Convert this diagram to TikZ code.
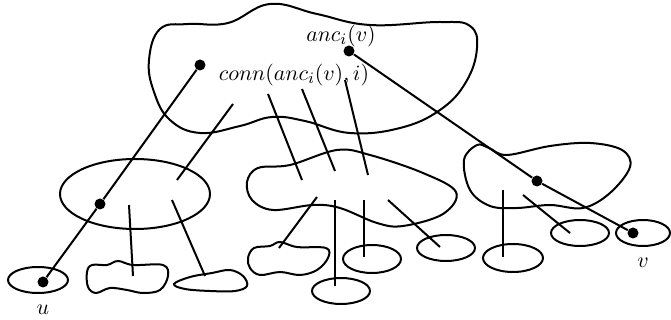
\documentclass[tikz,border=0pt]{standalone}
\usepackage{amsmath}

\tikzset{
  blob/.style={line width=1pt},
  edge/.style={line width=1pt},
  dot/.style={circle,fill,inner sep=0pt,minimum size=5.5pt},
  lbl/.style={font=\fontsize{11}{13}\selectfont,inner sep=1pt}
}

\begin{document}
\begin{tikzpicture}[x=0.5pt,y=-0.5pt]
\useasboundingbox (0,0) rectangle (671,320);
\draw[blob] plot[smooth cycle,tension=0.7] coordinates {(149,60) (160,29) (188,24) (228,23) (270,4) (317,14) (370,25) (440,22) (470,26) (477,48) (466,82) (440,110) (400,128) (350,133) (305,121) (272,117) (240,126) (200,133) (170,120) (154,92)};
\draw[blob] (135,194) ellipse [x radius=75,y radius=35];
\draw[blob] plot[smooth cycle,tension=0.6] coordinates {(247,182) (258,168) (290,165) (337,150) (370,155) (423,173) (456,192) (443,214) (403,226) (377,223) (340,208) (313,205) (273,210) (252,200)};
\draw[blob] plot[smooth cycle,tension=0.6] coordinates {(464,160) (477,145) (489,148) (507,155) (550,146) (590,143) (622,150) (630,167) (610,193) (583,208) (550,205) (517,208) (490,206) (470,190)};
\draw[blob] (38,280) ellipse [x radius=30,y radius=13];
\draw[blob] plot[smooth cycle,tension=0.6] coordinates {(87,272) (92,265) (107,265) (118,261) (133,265) (163,265) (168,276) (160,290) (143,293) (127,290) (110,288) (96,293) (88,287)};
\draw[blob] plot[smooth cycle,tension=0.6] coordinates {(174,284) (190,277) (212,273) (230,270) (243,276) (247,286) (235,291) (210,291) (185,289)};
\draw[blob] plot[smooth cycle,tension=0.6] coordinates {(248,258) (254,248) (270,246) (280,242) (297,247) (326,248) (328,258) (317,270) (300,275) (280,272) (260,275) (250,268)};
\draw[blob] (341,291) ellipse [x radius=29,y radius=13];
\draw[blob] (372,259) ellipse [x radius=29,y radius=14];
\draw[blob] (446,248) ellipse [x radius=29,y radius=13];
\draw[blob] (513,258) ellipse [x radius=30,y radius=14];
\draw[blob] (580,233) ellipse [x radius=29,y radius=13];
\draw[blob] (643,233) ellipse [x radius=27,y radius=13];
\node[dot] (rootu) at (200,65) {};
\node[dot] (rootv) at (349,51) {};
\node[dot] (midu) at (100,204) {};
\node[dot] (midv) at (537,181) {};
\node[dot] (leafu) at (43,282) {};
\node[dot] (leafv) at (633,233) {};
\draw[edge] (rootu) -- (midu) -- (leafu);
\draw[edge] (rootv) -- (midv) -- (leafv);
\draw[edge] (233,104) -- (177,180);
\draw[edge] (268,94) -- (302,180);
\draw[edge] (302,89) -- (335,171);
\draw[edge] (345,80) -- (368,175);
\draw[edge] (129,205) -- (133,276);
\draw[edge] (172,200) -- (205,276);
\draw[edge] (317,197) -- (279,248);
\draw[edge] (335,200) -- (335,286);
\draw[edge] (364,200) -- (364,257);
\draw[edge] (388,200) -- (440,247);
\draw[edge] (503,190) -- (503,257);
\draw[edge] (523,195) -- (570,233);
\node[lbl] (anc) at (341,36) {$anc_i(v)$};
\node[lbl] (conn) at (294,75) {$conn(anc_i(v),i)$};
\node[lbl] (u) at (43,310) {$u$};
\node[lbl] (v) at (643,263) {$v$};
\end{tikzpicture}
\end{document}
